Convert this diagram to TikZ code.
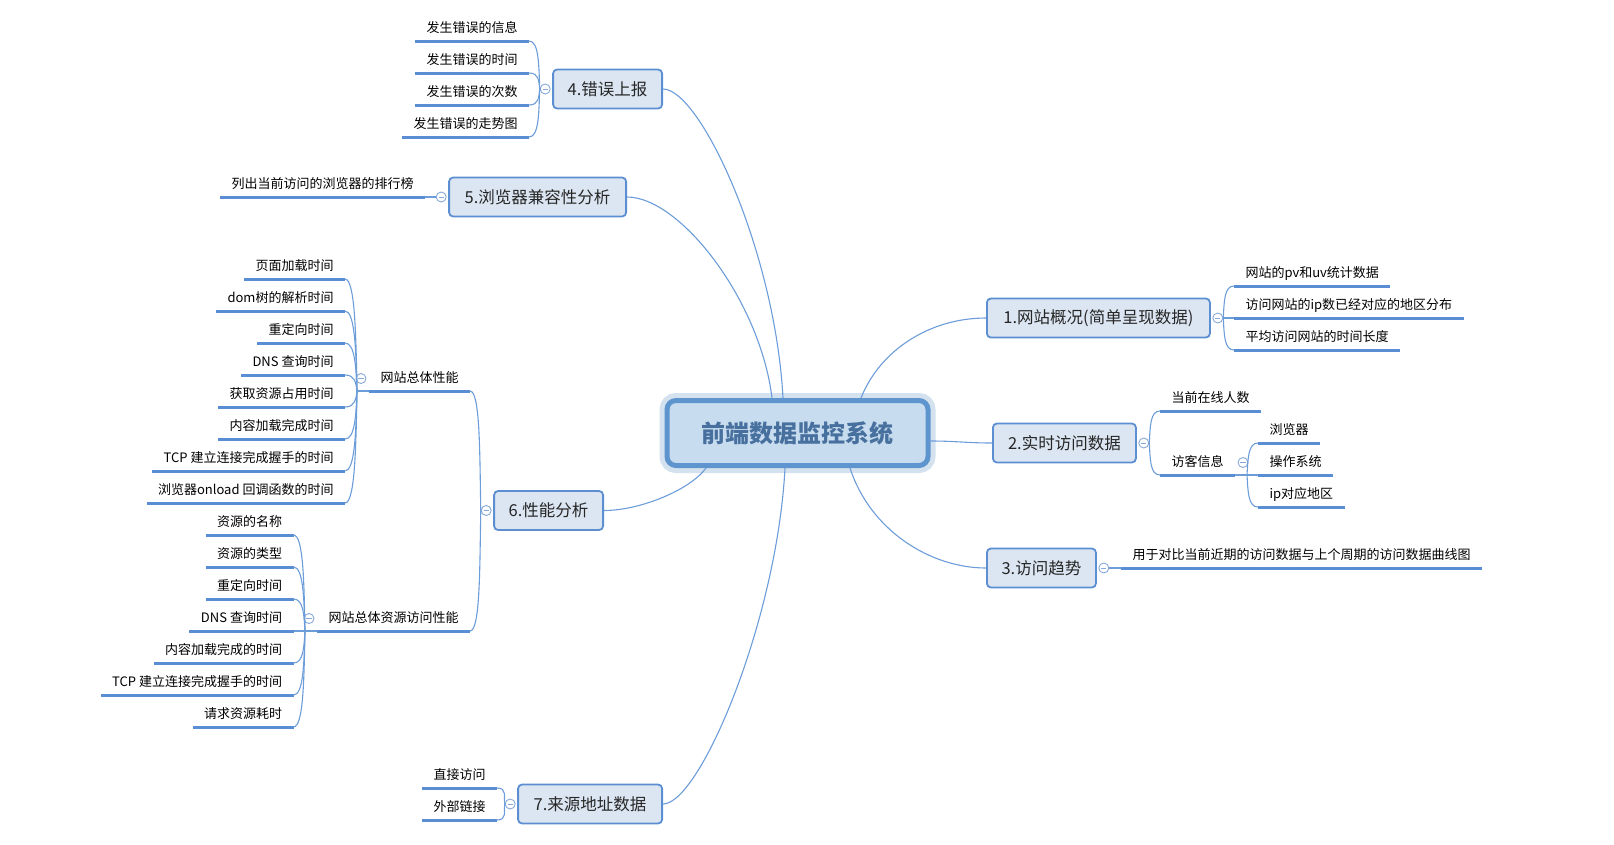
\documentclass[tikz,border=0pt]{standalone}
\usepackage{fontspec}
\setmainfont{Noto Sans CJK SC}
\usetikzlibrary{calc}
\definecolor{mmline}{HTML}{6C9DD9}
\definecolor{mmbar}{HTML}{5A8ED4}
\definecolor{mmfill}{HTML}{DCE6F2}
\definecolor{mmedge}{HTML}{5B8FD2}
\definecolor{rootfill}{HTML}{C7DCEE}
\definecolor{rootedge}{HTML}{5E95CF}
\definecolor{rootglow}{HTML}{D3E2EE}
\definecolor{roottext}{HTML}{47709F}
\definecolor{foldc}{HTML}{86A9D8}

% bracket-shaped links from a junction to a leaf underline
\newcommand\lbranch[2]{\draw[link] (#1) .. controls ($(#1)!0.5!(#1|-#2)+(-1,0)$) and ($(#2)+(10,0)$) .. (#2);}
\newcommand\rbranch[2]{\draw[link] (#1) .. controls ($(#1)!0.5!(#1|-#2)+(1,0)$) and ($(#2)+(-10,0)$) .. (#2);}

\tikzset{
  link/.style={mmline, line width=1.1pt},
  bar/.style={mmbar, line width=3pt},
  leaf/.style={font=\fontsize{13}{13}\selectfont, text=black, inner xsep=11.5pt, inner ysep=5.5pt,
    text height=11pt, text depth=3pt, outer sep=0pt,
    append after command={(\tikzlastnode.south west) edge[bar] (\tikzlastnode.south east)}},
  topic/.style={draw=mmedge, fill=mmfill, line width=1.8pt, rounded corners=4pt, minimum height=39pt,
    inner sep=0pt, font=\fontsize{16.5}{20}\selectfont, text=black!85},
  root/.style={draw=rootedge, fill=rootfill, line width=5pt, rounded corners=9pt, minimum width=261pt,
    minimum height=65pt, preaction={draw=rootglow, line width=15pt},
    font=\fontsize{24}{28}\selectfont\bfseries, text=roottext},
  fold/.style={circle, draw=foldc, fill=white, line width=0.9pt, minimum size=10pt, inner sep=0pt,
    path picture={\draw[foldc, line width=0.9pt] ($(path picture bounding box.west)+(2.4,0)$) -- ($(path picture bounding box.east)+(-2.4,0)$);}},
}

\begin{document}
\begin{tikzpicture}[x=1pt, y=-1pt]
  \useasboundingbox (0,0) rectangle (1614,844);

  % centre
  \node[root] (root) at (797.5,433) {前端数据监控系统};
  \coordinate (r1) at ($(root.north)+(63.5,0)$);
  \coordinate (r2) at ($(root.east)+(0,8)$);
  \coordinate (r3) at ($(root.south)+(52.5,0)$);
  \coordinate (r4) at ($(root.north)+(-14.5,0)$);
  \coordinate (r5) at ($(root.north)+(-25.5,0)$);
  \coordinate (r6) at ($(root.south)+(-91.5,0)$);
  \coordinate (r7) at ($(root.south)+(-12.5,0)$);

  % main topics
  \node[topic, minimum width=223pt, anchor=west] (t1) at (986,318) {1.网站概况(简单呈现数据)};
  \node[topic, minimum width=143pt, anchor=west] (t2) at (992,443) {2.实时访问数据};
  \node[topic, minimum width=109pt, anchor=west] (t3) at (986,568) {3.访问趋势};
  \node[topic, minimum width=109pt, anchor=east] (t4) at (663,89) {4.错误上报};
  \node[topic, minimum width=177pt, anchor=east] (t5) at (627,197) {5.浏览器兼容性分析};
  \node[topic, minimum width=109pt, anchor=east] (t6) at (604,510.5) {6.性能分析};
  \node[topic, minimum width=144pt, anchor=east] (t7) at (663,804) {7.来源地址数据};

  \draw[link] (r1) .. controls +(19,-48) and +(-56,0) .. (t1.west);
  \draw[link] (r2) .. controls +(25,0) and +(-25,0) .. (t2.west);
  \draw[link] (r3) .. controls +(20,62) and +(-56,0) .. (t3.west);
  \draw[link] (r4) .. controls +(-8,-148) and +(37,0) .. (t4.east);
  \draw[link] (r5) .. controls +(-12,-98) and +(53,0) .. (t5.east);
  \draw[link] (r6) .. controls +(-16,22) and +(36,0) .. (t6.east);
  \draw[link] (r7) .. controls +(-8,152) and +(37,0) .. (t7.east);

  \node[fold] (f1) at ($(t1.east)+(7,0)$) {};
  \node[fold] (f2) at ($(t2.east)+(7,0)$) {};
  \node[fold] (f3) at ($(t3.east)+(7,0)$) {};
  \node[fold] (f4) at ($(t4.west)+(-7,0)$) {};
  \node[fold] (f5) at ($(t5.west)+(-7,0)$) {};
  \node[fold] (f6) at ($(t6.west)+(-7,0)$) {};
  \node[fold] (f7) at ($(t7.west)+(-7,0)$) {};

  % 1
  \node[leaf, anchor=south west] (u1) at (1234,286) {网站的pv和uv统计数据};
  \node[leaf, anchor=south west] (u2) at (1234,318) {访问网站的ip数已经对应的地区分布};
  \node[leaf, anchor=south west] (u3) at (1234,350) {平均访问网站的时间长度};
  \rbranch{f1.east}{u1.south west}
  \rbranch{f1.east}{u2.south west}
  \rbranch{f1.east}{u3.south west}

  % 2
  \node[leaf, anchor=south west] (s21) at (1160,411) {当前在线人数};
  \node[leaf, anchor=south west] (s22) at (1160,475) {访客信息};
  \rbranch{f2.east}{s21.south west}
  \rbranch{f2.east}{s22.south west}
  \coordinate (q22) at ($(s22.south east)+(12,0)$);
  \draw[link] (s22.south east) -- (q22);
  \node[fold] (f22) at ($(s22.east)+(8,0)$) {};
  \node[leaf, anchor=south west] (w1) at (1258,443) {浏览器};
  \node[leaf, anchor=south west] (w2) at (1258,475) {操作系统};
  \node[leaf, anchor=south west] (w3) at (1258,507) {ip对应地区};
  \rbranch{q22}{w1.south west}
  \rbranch{q22}{w2.south west}
  \rbranch{q22}{w3.south west}

  % 3
  \node[leaf, anchor=south west] (z1) at (1121,568) {用于对比当前近期的访问数据与上个周期的访问数据曲线图};
  \draw[link] (f3.east) -- (z1.south west);

  % 4
  \node[leaf, anchor=south east] (e1) at (529,41) {发生错误的信息};
  \node[leaf, anchor=south east] (e2) at (529,73) {发生错误的时间};
  \node[leaf, anchor=south east] (e3) at (529,105) {发生错误的次数};
  \node[leaf, anchor=south east] (e4) at (529,137) {发生错误的走势图};
  \lbranch{f4.west}{e1.south east}
  \lbranch{f4.west}{e2.south east}
  \lbranch{f4.west}{e3.south east}
  \lbranch{f4.west}{e4.south east}

  % 5
  \node[leaf, anchor=south east] (g1) at (425,197) {列出当前访问的浏览器的排行榜};
  \draw[link] (f5.west) -- (g1.south east);

  % 6
  \node[leaf, anchor=south east] (s61) at (470,391) {网站总体性能};
  \node[leaf, anchor=south east] (s62) at (470,631) {网站总体资源访问性能};
  \lbranch{f6.west}{s61.south east}
  \lbranch{f6.west}{s62.south east}
  \node[fold] (f61) at ($(s61.west)+(-8,0)$) {};
  \node[fold] (f62) at ($(s62.west)+(-8,0)$) {};
  \coordinate (q61) at ($(s61.south west)+(-12,0)$);
  \coordinate (q62) at ($(s62.south west)+(-12,0)$);
  \draw[link] (s61.south west) -- (q61);
  \draw[link] (s62.south west) -- (q62);

  \node[leaf, anchor=south east] (p1) at (345,279) {页面加载时间};
  \node[leaf, anchor=south east] (p2) at (345,311) {dom树的解析时间};
  \node[leaf, anchor=south east] (p3) at (345,343) {重定向时间};
  \node[leaf, anchor=south east] (p4) at (345,375) {DNS 查询时间};
  \node[leaf, anchor=south east] (p5) at (345,407) {获取资源占用时间};
  \node[leaf, anchor=south east] (p6) at (345,439) {内容加载完成时间};
  \node[leaf, anchor=south east] (p7) at (345,471) {TCP 建立连接完成握手的时间};
  \node[leaf, anchor=south east] (p8) at (345,503) {浏览器onload 回调函数的时间};
  \lbranch{q61}{p1.south east}
  \lbranch{q61}{p2.south east}
  \lbranch{q61}{p3.south east}
  \lbranch{q61}{p4.south east}
  \lbranch{q61}{p5.south east}
  \lbranch{q61}{p6.south east}
  \lbranch{q61}{p7.south east}
  \lbranch{q61}{p8.south east}

  \node[leaf, anchor=south east] (k1) at (293.5,535) {资源的名称};
  \node[leaf, anchor=south east] (k2) at (293.5,567) {资源的类型};
  \node[leaf, anchor=south east] (k3) at (293.5,599) {重定向时间};
  \node[leaf, anchor=south east] (k4) at (293.5,631) {DNS 查询时间};
  \node[leaf, anchor=south east] (k5) at (293.5,663) {内容加载完成的时间};
  \node[leaf, anchor=south east] (k6) at (293.5,695) {TCP 建立连接完成握手的时间};
  \node[leaf, anchor=south east] (k7) at (293.5,727) {请求资源耗时};
  \lbranch{q62}{k1.south east}
  \lbranch{q62}{k2.south east}
  \lbranch{q62}{k3.south east}
  \lbranch{q62}{k4.south east}
  \lbranch{q62}{k5.south east}
  \lbranch{q62}{k6.south east}
  \lbranch{q62}{k7.south east}

  % 7
  \node[leaf, anchor=south east] (v1) at (497,788) {直接访问};
  \node[leaf, anchor=south east] (v2) at (497,820) {外部链接};
  \lbranch{f7.west}{v1.south east}
  \lbranch{f7.west}{v2.south east}
\end{tikzpicture}
\end{document}
